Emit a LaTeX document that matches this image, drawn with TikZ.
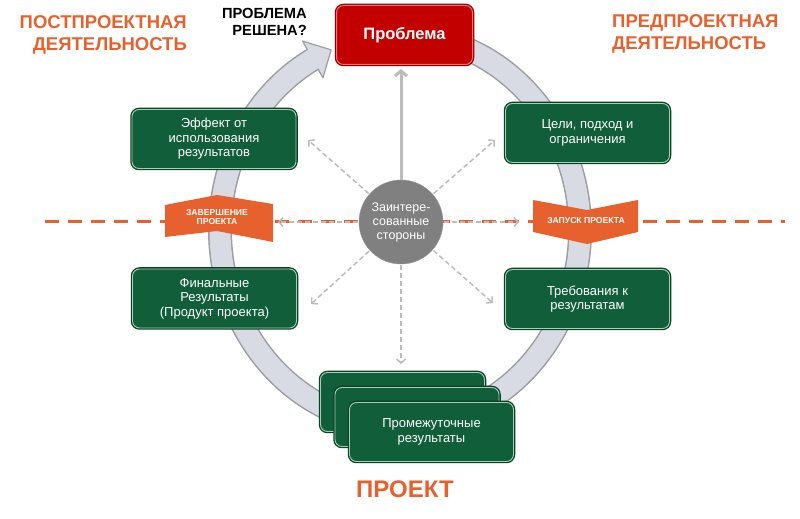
\documentclass[tikz,border=0pt]{standalone}
\usepackage{fontspec}
\setmainfont{Liberation Sans}
\usepackage{tikz}
\usetikzlibrary{arrows}
\usetikzlibrary{arrows.meta}
\usetikzlibrary{positioning}
\definecolor{porange}{RGB}{230, 97, 45}
\definecolor{pgreen}{RGB}{17, 94, 58}
\definecolor{pgreendk}{RGB}{10, 64, 38}
\definecolor{pgreenln}{RGB}{165, 208, 180}
\definecolor{pred}{RGB}{194, 0, 0}
\definecolor{preddk}{RGB}{140, 0, 0}
\definecolor{predln}{RGB}{242, 112, 112}
\definecolor{ringfill}{RGB}{216, 219, 228}
\definecolor{ringline}{RGB}{155, 157, 163}
\definecolor{arrgray}{RGB}{188, 188, 188}
\definecolor{stakegray}{RGB}{128, 128, 128}
\tikzset{gbox/.style = {draw = pgreenln, line width = 0.9pt, fill = pgreen, rounded corners = 7pt,
    minimum width = 164pt, minimum height = 59pt, inner sep = 0, text = white, align = center,
    font = \fontsize{13}{14.5}\selectfont, preaction = {draw = pgreendk, line width = 3.5pt}}}
\tikzset{rbox/.style = {draw = predln, line width = 1pt, fill = pred, rounded corners = 7pt,
    minimum width = 136pt, minimum height = 59pt, inner sep = 0, text = white,
    font = \bfseries\fontsize{16.5}{18}\selectfont, preaction = {draw = preddk, line width = 3.5pt}}}
\tikzset{stake/.style = {circle, fill = stakegray, draw = stakegray!85!white, minimum size = 84pt,
    inner sep = 0, text = white, align = center, font = \fontsize{12.5}{14}\selectfont}}
\tikzset{rtext/.style = {inner sep = 0, text = white, align = center, font = \bfseries\fontsize{8.6}{9.5}\selectfont}}
\tikzset{head/.style = {inner sep = 0, text = porange, font = \bfseries\fontsize{18.5}{22}\selectfont}}
\tikzset{darr/.style = {arrgray, line width = 1.5pt, dash pattern = on 5pt off 3pt,
    -{Straight Barb[length = 4pt, width = 9pt]}, shorten <= 1pt}}

\begin{document}
\begin{tikzpicture}[x = 1pt, y = 1pt]
      \useasboundingbox (0, 0) rectangle (800, 519);
      % ring with arrow head
      \coordinate (ringc) at (400, 289);
      \draw [ringline, line width = 24pt] (ringc) ++(88:180 and 195)
        arc [start angle = 88, end angle = -241, x radius = 180, y radius = 195];
      \path (ringc) ++(119:201 and 216) coordinate (hdout);
      \path (ringc) ++(119:159 and 174) coordinate (hdin);
      \path (ringc) ++(112.5:180 and 195) coordinate (hdtip);
      \filldraw [fill = ringfill, draw = ringline, line width = 1.2pt, line join = round]
        (hdout) -- (hdtip) -- (hdin) -- cycle;
      \draw [ringfill, line width = 21pt] (ringc) ++(88:180 and 195)
        arc [start angle = 88, end angle = -243, x radius = 180, y radius = 195];
      % project line
      \coordinate (linel) at (45, 297);
      \coordinate (liner) at (785, 297);
      \draw [porange, line width = 3pt, dash pattern = on 14pt off 9pt] (linel) -- (liner);
      \fill [porange] (165, 314) -- (217, 324) -- (273, 315) -- (273, 277) -- (217, 288) -- (165, 282) -- cycle;
      \node [rtext] (finish) at (217, 302) {ЗАВЕРШЕНИЕ\\ПРОЕКТА};
      \fill [porange] (533, 319) -- (587, 309) -- (638, 319) -- (638, 287) -- (587, 275) -- (533, 287) -- cycle;
      \node [rtext] (launch) at (586, 298) {ЗАПУСК ПРОЕКТА};
      % boxes
      \node [rbox] (prob) at (404.5, 484) {Проблема};
      \node [gbox] (effect) at (214, 380) {Эффект от\\использования\\результатов};
      \node [gbox] (goals) at (587.5, 386) {Цели, подход и\\ограничения};
      \node [gbox] (final) at (214.5, 220.5) {Финальные\\Результаты\\(Продукт проекта)};
      \node [gbox] (reqs) at (587.5, 220) {Требования к\\результатам};
      \node [gbox] (interimc) at (402.5, 117) {};
      \node [gbox] (interimb) at ([shift = {(14.5, -15)}] interimc) {};
      \node [gbox] (interim) at ([shift = {(14.5, -15)}] interimb) {Промежуточные\\результаты};
      % stakeholders
      \node [stake] (stake) at (401, 297) {Заинтере-\\сованные\\стороны};
      \draw [arrgray, line width = 3pt, -{Straight Barb[length = 5pt, width = 12pt]}, shorten >= 4pt]
        (stake) -- (stake |- prob.south);
      \foreach \name/\x/\y in {nw/308/379, ne/495/379, w/278/297, e/519/297, sw/311/215, se/493/216, s/401/155} {
        \coordinate (\name) at (\x, \y);
        \draw [darr] (stake) -- (\name);
      }
      % titles
      \node [head, anchor = east, align = right] (post) at (187, 484) {ПОСТПРОЕКТНАЯ\\ДЕЯТЕЛЬНОСТЬ};
      \node [head, anchor = west, align = left] (pre) at (612, 485) {ПРЕДПРОЕКТНАЯ\\ДЕЯТЕЛЬНОСТЬ};
      \node [anchor = east, align = right, inner sep = 0, font = \bfseries\fontsize{14.7}{16.5}\selectfont]
        (solved) at (307, 497) {ПРОБЛЕМА\\РЕШЕНА?};
      \node [text = porange, font = \bfseries\fontsize{24}{28}\selectfont] (project) at (405, 30) {ПРОЕКТ};
    \end{tikzpicture}
\end{document}
